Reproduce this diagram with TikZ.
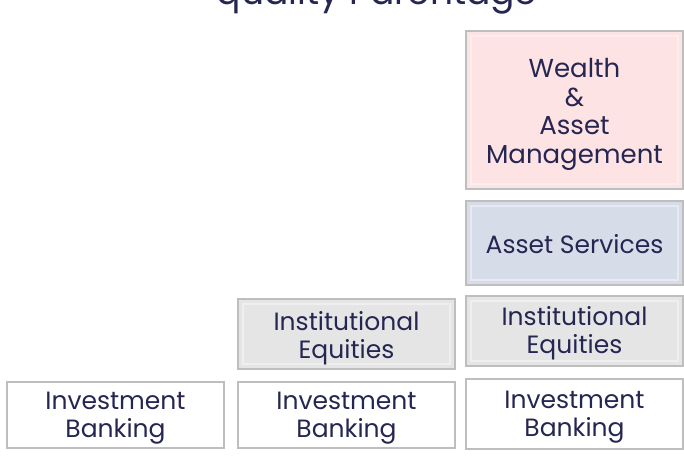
\documentclass[tikz,border=0pt]{standalone}
\usepackage{fontspec}
\setmainfont{Poppins}
\definecolor{txt}{RGB}{38,38,82}
\definecolor{edge}{RGB}{190,190,190}
\definecolor{pinkf}{RGB}{253,227,227}
\definecolor{bluef}{RGB}{215,221,232}
\definecolor{grayf}{RGB}{229,229,229}
\newcommand{\lbl}[2]{\raisebox{-#1}[\height][\depth]{\begin{tabular}{@{}c@{}}#2\end{tabular}}}
\tikzset{
  box/.style={draw=edge, line width=2.6pt, align=center, text=txt,
    inner sep=0pt, minimum width=217pt,
    font=\fontsize{25}{27.5}\selectfont},
  bevel/.style={path picture={
    \draw[white, opacity=0.4, line width=1.2pt]
      ([xshift=5pt,yshift=-5pt]path picture bounding box.north west) rectangle
      ([xshift=-5pt,yshift=5pt]path picture bounding box.south east);}},
}
\begin{document}
\begin{tikzpicture}[x=1pt,y=-1pt]
\useasboundingbox (0,0) rectangle (684,465);
\node[font=\fontsize{36}{40}\selectfont, text=txt, anchor=base] (title) at (377,5) {quality Parentage};
\node[box, fill=white, minimum height=66pt] (ib1) at (115.5,415) {\lbl{3pt}{Investment\\Banking}};
\node[box, fill=white, minimum height=66pt] (ib2) at (346.5,415) {\lbl{3pt}{Investment\\Banking}};
\node[box, fill=white, minimum height=70pt] (ib3) at (574.5,414) {\lbl{3pt}{Investment\\Banking}};
\node[box, bevel, fill=grayf, minimum height=70pt] (ie2) at (346.5,334) {\lbl{5pt}{Institutional\\Equities}};
\node[box, bevel, fill=grayf, minimum height=70pt] (ie3) at (574.5,331) {\lbl{3pt}{Institutional\\Equities}};
\node[box, bevel, fill=bluef, minimum height=84pt] (as) at (574.5,243) {\lbl{5pt}{Asset Services}};
\node[box, bevel, fill=pinkf, minimum height=158pt, font=\fontsize{26}{28.5}\selectfont] (wam) at (574.5,110) {\lbl{5pt}{Wealth\\\&\\Asset\\Management}};
\end{tikzpicture}
\end{document}
